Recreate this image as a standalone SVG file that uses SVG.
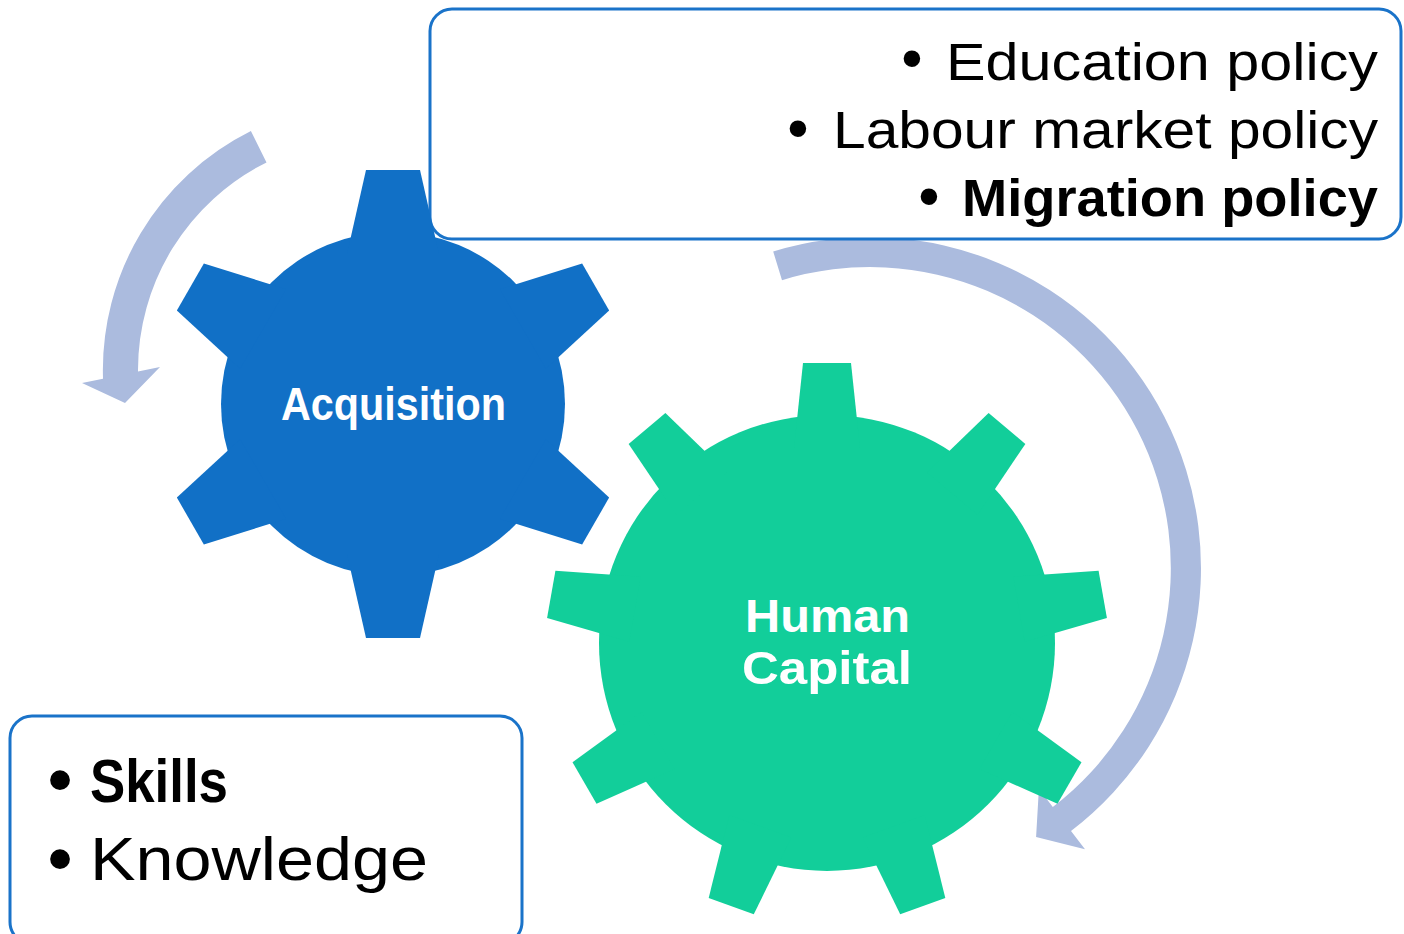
<svg xmlns="http://www.w3.org/2000/svg" xmlns:xlink="http://www.w3.org/1999/xlink" width="1404" height="934" viewBox="0 0 1404 934">
  <style>
    .arrow { fill: #ABBBDE; }
    .box { fill: #FFFFFF; stroke: #1A73C9; stroke-width: 3; }
    .txt { font-family: "Liberation Sans", Arial, sans-serif; fill: #000000; }
    .lbl { font-family: "Liberation Sans", Arial, sans-serif; font-weight: bold; fill: #FFFFFF; text-anchor: middle; }
    .bul { font-family: "Liberation Sans", Arial, sans-serif; fill: #000000; text-anchor: middle; }
    .b { font-weight: bold; }
  </style>
  <defs>
    <polygon id="tooth6" points="-27,-234 27,-234 46,-150 -46,-150"/>
    <polygon id="tooth9" points="-24,-280 24,-280 33,-195 -33,-195"/>
  </defs>

  <!-- curved cycle arrows -->
  <g id="connectors">
    <path class="arrow" d="M250.9,131.1 A267,267 0 0 0 103,378.7 L82,383 L125,403 L160,367 L138,371.5 A232,232 0 0 1 266.5,162.4 Z"/>
    <path class="arrow" d="M773.2,251.5 A331,331 0 0 1 1071,831 L1085,849.2 L1036.1,836.9 L1038.9,788.8 L1052.8,807.1 A301,301 0 0 0 782,280.2 Z"/>
  </g>

  <!-- policy box -->
  <g id="policies">
    <rect class="box" x="430" y="9" width="971" height="230" rx="22"/>
    <text class="bul" x="912" y="79" font-size="61">•</text>
    <text class="txt" x="1378" y="80" font-size="51" text-anchor="end" textLength="432" lengthAdjust="spacingAndGlyphs">Education policy</text>
    <text class="bul" x="798" y="149" font-size="61">•</text>
    <text class="txt" x="1378" y="148" font-size="51" text-anchor="end" textLength="545" lengthAdjust="spacingAndGlyphs">Labour market policy</text>
    <text class="bul" x="929" y="217" font-size="61">•</text>
    <text class="txt b" x="1378" y="216" font-size="51" text-anchor="end" textLength="416" lengthAdjust="spacingAndGlyphs">Migration policy</text>
  </g>

  <!-- skills box -->
  <g id="skills">
    <rect class="box" x="10" y="716" width="512" height="228" rx="22"/>
    <text class="bul" x="60" y="804" font-size="73">•</text>
    <text class="txt b" x="90" y="802" font-size="61" textLength="138" lengthAdjust="spacingAndGlyphs">Skills</text>
    <text class="bul" x="60" y="883" font-size="73">•</text>
    <text class="txt" x="90" y="880" font-size="61" textLength="338" lengthAdjust="spacingAndGlyphs">Knowledge</text>
  </g>

  <!-- six-tooth gear -->
  <g id="acquisition" fill="#1170C6">
    <g transform="translate(393,404)">
      <circle r="172"/>
      <use xlink:href="#tooth6"/>
      <use xlink:href="#tooth6" transform="rotate(60)"/>
      <use xlink:href="#tooth6" transform="rotate(120)"/>
      <use xlink:href="#tooth6" transform="rotate(180)"/>
      <use xlink:href="#tooth6" transform="rotate(240)"/>
      <use xlink:href="#tooth6" transform="rotate(300)"/>
    </g>
    <text class="lbl" x="393.5" y="420" font-size="46" textLength="225" lengthAdjust="spacingAndGlyphs">Acquisition</text>
  </g>

  <!-- nine-tooth gear -->
  <g id="human-capital" fill="#12CE9A">
    <g transform="translate(827,643)">
      <circle r="228"/>
      <use xlink:href="#tooth9"/>
      <use xlink:href="#tooth9" transform="rotate(40)"/>
      <use xlink:href="#tooth9" transform="rotate(80)"/>
      <use xlink:href="#tooth9" transform="rotate(120)"/>
      <use xlink:href="#tooth9" transform="rotate(160)"/>
      <use xlink:href="#tooth9" transform="rotate(200)"/>
      <use xlink:href="#tooth9" transform="rotate(240)"/>
      <use xlink:href="#tooth9" transform="rotate(280)"/>
      <use xlink:href="#tooth9" transform="rotate(320)"/>
    </g>
    <text class="lbl" x="827.5" y="632" font-size="46" textLength="165" lengthAdjust="spacingAndGlyphs">Human</text>
    <text class="lbl" x="827" y="684" font-size="46" textLength="170" lengthAdjust="spacingAndGlyphs">Capital</text>
  </g>
</svg>
